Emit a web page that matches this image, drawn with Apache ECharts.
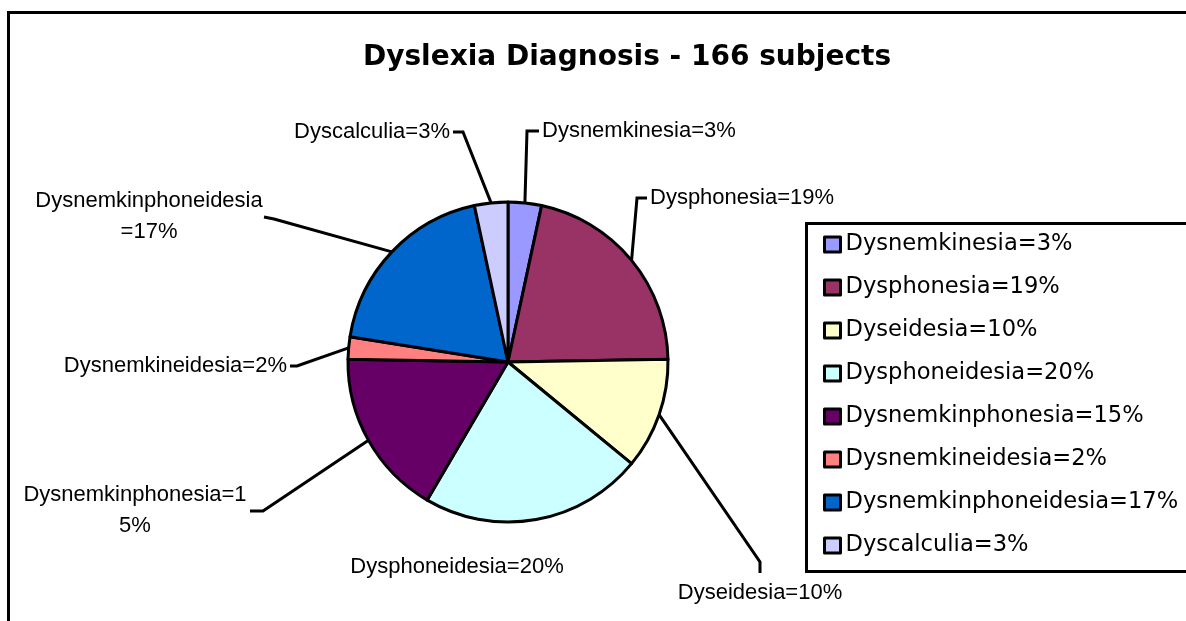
<!DOCTYPE html>
<html><head><meta charset="utf-8">
<script src="https://cdn.jsdelivr.net/npm/echarts@6/dist/echarts.min.js"></script>
<style>html,body{margin:0;padding:0;background:#fff}#c{width:1186px;height:621px}</style>
</head><body><div id="c"></div>
<script>
const titleText = 'Dyslexia Diagnosis - 166 subjects';
const categories = ['Dysnemkinesia','Dysphonesia','Dyseidesia','Dysphoneidesia','Dysnemkinphonesia','Dysnemkineidesia','Dysnemkinphoneidesia','Dyscalculia'];
const percents = [3, 19, 10, 20, 15, 2, 17, 3];
const colors = ['#9999FF','#993366','#FFFFCC','#CCFFFF','#660066','#FF8080','#0066CC','#CCCCFF'];

// label placement (layout only)
const placement = [
  {x: 542, y: 131, align: 'left',   end: [-3, 0],   elbow: [-15, 0]},
  {x: 650, y: 198, align: 'left',   end: [-3, 0],   elbow: [-13, 0]},
  {x: 760, y: 593, align: 'center', end: [0, -20],  elbow: [0, -31]},
  {x: 457, y: 567, align: 'center'},
  {x: 135, y: 510, align: 'center', end: [115, 1],  elbow: [128, 1]},
  {x: 287, y: 366, align: 'right',  end: [3, 0],    elbow: [10, 0]},
  {x: 149, y: 216, align: 'center', end: [115, 1],  elbow: [125, 3]},
  {x: 450, y: 132, align: 'right',  end: [3, 0],    elbow: [13, 0]}
];
const wrapWidth = {4: 228, 6: 233};
const noLine = {3: true};

const chart = echarts.init(document.getElementById('c'), null, {renderer: 'canvas'});
const data = categories.map((name, i) => {
  const item = {name: name, value: percents[i], itemStyle: {color: colors[i]}};
  if (wrapWidth[i]) item.label = {width: wrapWidth[i], overflow: 'breakAll', lineHeight: 31, align: 'center'};
  if (noLine[i]) item.labelLine = {show: false};
  return item;
});

chart.setOption({
  animation: false,
  backgroundColor: '#fff',
  title: {
    text: titleText, left: 627, top: 44, padding: 0, textAlign: 'center',
    textStyle: {fontFamily: 'DejaVu Sans', fontWeight: 'bold', fontSize: 28, color: '#000'}
  },
  legend: {
    orient: 'vertical', left: 823, top: 233, padding: 0,
    itemWidth: 16, itemHeight: 15, itemGap: 20, icon: 'rect',
    itemStyle: {borderColor: '#000', borderWidth: 3},
    textStyle: {fontFamily: 'DejaVu Sans', fontSize: 22.6, color: '#000'},
    formatter: function (name) { return name + '=' + percents[categories.indexOf(name)] + '%'; },
    data: categories
  },
  graphic: [
    {type: 'rect', silent: true, z: -10, shape: {x: 8.5, y: 12.5, width: 1400, height: 1000}, style: {fill: 'none', stroke: '#000', lineWidth: 3}},
    {type: 'rect', silent: true, z: -10, shape: {x: 806.5, y: 223.5, width: 600, height: 348}, style: {fill: 'none', stroke: '#000', lineWidth: 3}}
  ],
  series: [{
    type: 'pie',
    center: [508, 362],
    radius: 160,
    startAngle: 90,
    clockwise: true,
    avoidLabelOverlap: false,
    emphasis: {disabled: true},
    itemStyle: {borderColor: '#000', borderWidth: 3},
    label: {show: true, position: 'outside', formatter: '{b}={c}%', fontFamily: 'Liberation Sans', fontSize: 22, color: '#000'},
    labelLine: {show: true, length: 10, length2: 10, lineStyle: {color: '#000', width: 3}},
    labelLayout: function (p) {
      const pl = placement[p.dataIndex];
      const out = {x: pl.x, y: pl.y, align: pl.align, verticalAlign: 'middle'};
      const pts = p.labelLinePoints;
      if (pl.end && pts && pts.length) {
        const a = pts[0];
        out.labelLinePoints = [[a[0], a[1]], [pl.x + pl.elbow[0], pl.y + pl.elbow[1]], [pl.x + pl.end[0], pl.y + pl.end[1]]];
      }
      return out;
    },
    data: data
  }]
});
</script>
</body></html>
